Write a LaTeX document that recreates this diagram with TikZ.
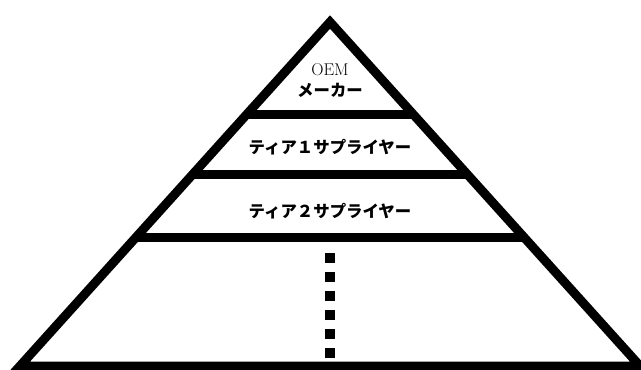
\documentclass[tikz,border=0pt]{standalone}
\usepackage{fontspec}
\newfontfamily\jpfont{Noto Sans CJK JP}
\usetikzlibrary{calc, positioning}

\begin{document}
\begin{tikzpicture}[
  x=1pt, y=-1pt,
  edge/.style={line width=9pt, line join=miter},
  tier/.style={font=\jpfont\bfseries\fontsize{16.4}{16.4}\selectfont, inner sep=0pt},
  oemtxt/.style={font=\fontsize{17}{17}\selectfont, inner sep=0pt}
]
  \useasboundingbox[fill=white] (0,0) rectangle (641,370);

  \coordinate (apex) at (330,22);
  \coordinate (bl) at (20,366);
  \coordinate (br) at (640,366);

  % Pyramid outline
  \draw[edge] (apex) -- (bl) -- (br) -- cycle;

  % Tier borders
  \draw[edge] ($(apex)!0.2689!(bl)$) -- ($(apex)!0.2689!(br)$);
  \draw[edge] ($(apex)!0.4433!(bl)$) -- ($(apex)!0.4433!(br)$);
  \draw[edge] ($(apex)!0.6265!(bl)$) -- ($(apex)!0.6265!(br)$);

  \node[oemtxt] (oem) at (330,70) {OEM};
  \node[tier] (maker) at (330,90) {メーカー};
  \node[tier] (tier1) at (330,147.5) {ティア１サプライヤー};
  \node[tier] (tier2) at (330,211) {ティア２サプライヤー};

  % More tiers below
  \coordinate (dtop) at (330,253);
  \coordinate (dbot) at (330,357.5);
  \draw[line width=9.5pt, dash pattern=on 9.5pt off 9.5pt] (dtop) -- (dbot);
\end{tikzpicture}
\end{document}
